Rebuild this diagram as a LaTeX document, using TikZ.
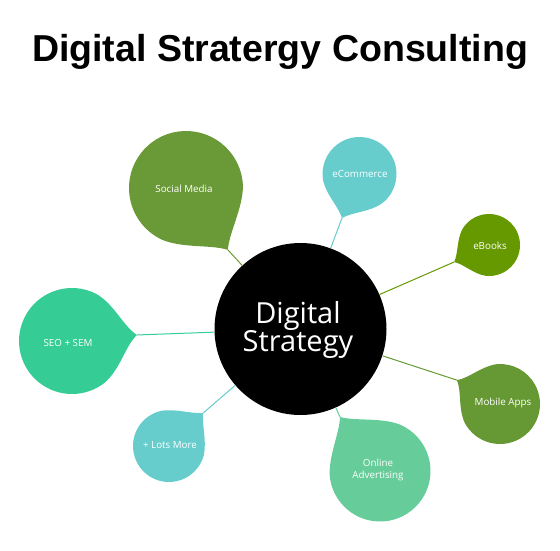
\documentclass[tikz,border=0pt]{standalone}
\usepackage{fontspec}
\setmainfont{Open Sans}
\newfontfamily\titlefont{Liberation Sans}
\definecolor{cSocial}{HTML}{6A9A38}
\definecolor{cTeal}{HTML}{66CCCC}
\definecolor{cBooks}{HTML}{669900}
\definecolor{cSeo}{HTML}{36CC96}
\definecolor{cMobile}{HTML}{669933}
\definecolor{cOnline}{HTML}{66CC99}
% #1 tip name, #2 cx, #3 cy, #4 radius, #5 angle, #6 tip factor, #7 colour
\newcommand\bubbleshape[7]{%
  \begin{scope}[shift={(#2,#3)}, rotate=#5]
    \fill[#7] ({#6*#4},0) .. controls ({(#6-0.25)*#4},{0.2*#4}) and ({0.86*#4},{0.62*#4}) .. (58:#4)
      arc[start angle=58, end angle=302, radius=#4]
      .. controls ({0.86*#4},{-0.62*#4}) and ({(#6-0.25)*#4},{-0.2*#4}) .. cycle;
    \coordinate (#1) at ({#6*#4},0);
  \end{scope}}
\begin{document}
\begin{tikzpicture}[x=1pt,y=1pt,
  lbl/.style={text=white, font=\fontsize{9.8}{12.5}\selectfont, align=center, inner sep=0pt},
  conn/.style={line width=1pt}]
\useasboundingbox (0,0) rectangle (560,550);
% title
\node[anchor=base, font=\titlefont\bfseries\fontsize{37.5}{40}\selectfont, inner sep=0pt] (title) at (280,488) {Digital Stratergy Consulting};
% central circle
\node[circle, fill=black, minimum size=172pt, inner sep=0pt] (dc) at (300.5,221) {};
\node[text=white, align=center, font=\fontsize{29}{28}\selectfont, inner sep=0pt] (dtxt) at (298,220) {Digital\\Strategy};
% bubbles
\bubbleshape{smtip}{186}{362}{57}{-55.9}{1.31}{cSocial}
\bubbleshape{ectip}{359.5}{376}{37}{-111.7}{1.28}{cTeal}
\bubbleshape{ebtip}{489}{305}{31}{-154}{1.25}{cBooks}
\bubbleshape{seotip}{72}{209}{53}{5.3}{1.23}{cSeo}
\bubbleshape{matip}{500}{146}{40}{151}{1.23}{cMobile}
\bubbleshape{lmtip}{169}{104}{36}{44}{1.32}{cTeal}
\bubbleshape{oatip}{380}{79}{50.5}{126.5}{1.33}{cOnline}
% labels
\node[lbl] (sm) at (184,361) {Social Media};
\node[lbl] (ec) at (360,376) {eCommerce};
\node[lbl] (eb) at (490,304) {eBooks};
\node[lbl] (seo) at (68,207) {SEO + SEM};
\node[lbl] (ma) at (503,147) {Mobile Apps};
\node[lbl] (lm) at (170,105) {+ Lots More};
\node[lbl] (oa) at (378,80) {Online\\Advertising};
% connectors
\draw[conn, cSocial] (smtip) -- (dc);
\draw[conn, cTeal] (ectip) -- (dc);
\draw[conn, cBooks] (ebtip) -- (dc);
\draw[conn, cSeo] (seotip) -- (dc);
\draw[conn, cMobile] (matip) -- (dc);
\draw[conn, cTeal] (lmtip) -- (dc);
\draw[conn, cOnline] (oatip) -- (dc);
\end{tikzpicture}
\end{document}
